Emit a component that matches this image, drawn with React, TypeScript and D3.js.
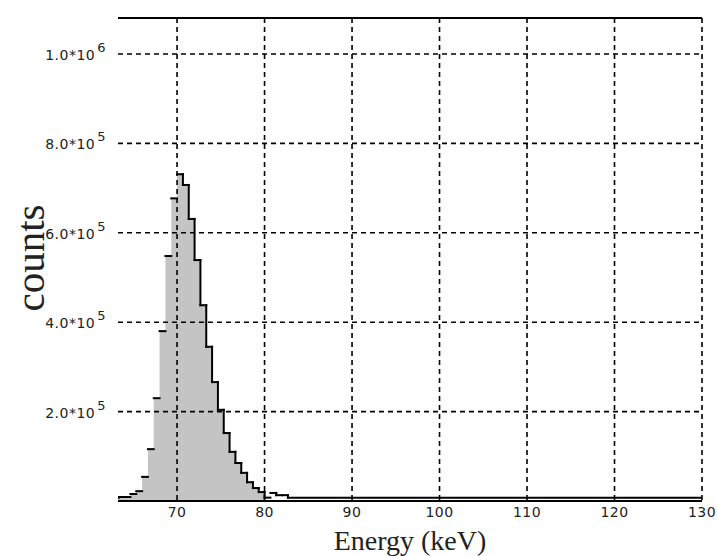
import React from 'react'
import * as d3 from 'd3'

// histogram bins (keV), regular width, first bin starts at binStart
const binStart = 62.67
const binWidth = 2 / 3
const counts = [
  7500, 9000, 9000, 15600, 22000, 54000, 116000, 230000, 380000, 548000,
  677000, 731000, 707000, 631000, 539000, 438000, 345000, 266000, 204000, 152000,
  110000, 85000, 63000, 42000, 29000, 20000, 7500, 18000, 13000, 13000,
]
// shaded part of the spectrum ends here
const fillEnd = 80
// flat background after the last bin
const tailTo = 130
const tailCounts = 7500

const xTicks = [70, 80, 90, 100, 110, 120, 130]
const yTicks = [200000, 400000, 600000, 800000, 1000000]
const yTickMantissa = ['2.0*10', '4.0*10', '6.0*10', '8.0*10', '1.0*10']
const yTickExp = ['5', '5', '5', '5', '6']

const W = 717
const H = 556
const left = 118
const right = 702
const top = 18
const bottom = 501

const App = () => {
  const x = d3.scaleLinear().domain([63.25, 130]).range([left, right])
  const y = d3.scaleLinear().domain([0, 1080500]).range([bottom, top])

  const bins = counts.map((c, i) => ({ e0: binStart + i * binWidth, e1: binStart + (i + 1) * binWidth, c }))
  const filled = bins.filter(b => b.e1 <= fillEnd + 0.01)
  const areaPts = filled.map(b => [b.e0, b.c] as [number, number])
  const lastFilled = filled[filled.length - 1]
  areaPts.push([lastFilled.e1, lastFilled.c])
  const area = d3.area<[number, number]>()
    .x(d => x(d[0]))
    .y0(y(0))
    .y1(d => y(d[1]))
    .curve(d3.curveStepAfter)

  // outline: tops of every bin, verticals only on falling steps
  const segs: [number, number, number, number][] = []
  bins.forEach((b, i) => {
    segs.push([x(b.e0), y(b.c), x(b.e1), y(b.c)])
    const next = i < bins.length - 1 ? bins[i + 1].c : tailCounts
    if (next < b.c) segs.push([x(b.e1), y(b.c), x(b.e1), y(next)])
  })
  const lastEnd = bins[bins.length - 1].e1
  segs.push([x(lastEnd), y(tailCounts), x(tailTo), y(tailCounts)])

  const tickFont = '"DejaVu Sans", sans-serif'
  const dash = '5,4'

  return (
    <svg width={W} height={H} style={{ position: 'absolute', left: 0, top: 0, background: '#fff' }}>
      <defs>
        <clipPath id="plot">
          <rect x={left} y={top} width={right - left} height={bottom - top} />
        </clipPath>
      </defs>
      <g clipPath="url(#plot)">
        <path d={area(areaPts) || ''} fill="#c4c4c4" />
      </g>
      {/* grid */}
      {xTicks.map(t => (
        <line key={'gx' + t} x1={x(t)} x2={x(t)} y1={top} y2={bottom}
          stroke="#000" strokeWidth={1.6} strokeDasharray={dash} />
      ))}
      {yTicks.map(t => (
        <line key={'gy' + t} x1={left} x2={right} y1={y(t)} y2={y(t)}
          stroke="#000" strokeWidth={1.6} strokeDasharray={dash} />
      ))}
      <g clipPath="url(#plot)">
        {segs.map((s, i) => (
          <line key={'s' + i} x1={s[0]} y1={s[1]} x2={s[2]} y2={s[3]}
            stroke="#000" strokeWidth={2} strokeLinecap="square" />
        ))}
      </g>
      {/* frame */}
      <line x1={left} x2={right} y1={top} y2={top} stroke="#000" strokeWidth={2} />
      <line x1={left} x2={right} y1={bottom} y2={bottom} stroke="#000" strokeWidth={2} />
      {/* tick labels */}
      {xTicks.map(t => (
        <text key={'tx' + t} x={x(t)} y={bottom + 16} textAnchor="middle"
          fontFamily={tickFont} fontSize={14} fill="#222" letterSpacing={0.5}>{t}</text>
      ))}
      {yTicks.map((t, i) => (
        <text key={'ty' + t} x={106} y={y(t) + 6} textAnchor="end"
          fontFamily={tickFont} fontSize={14} fill="#222" letterSpacing={0.5}>
          {yTickMantissa[i]}
          <tspan dx={2} dy={-8} fontSize={13}>{yTickExp[i]}</tspan>
        </text>
      ))}
      {/* axis titles */}
      <text x={410} y={550} textAnchor="middle" fontFamily='"Liberation Serif", serif'
        fontSize={28} fill="#222">Energy (keV)</text>
      <text transform={`translate(44,258) rotate(-90)`} textAnchor="middle"
        fontFamily='"Liberation Serif", serif' fontSize={41} fill="#222">counts</text>
    </svg>
  )
}

export default App
